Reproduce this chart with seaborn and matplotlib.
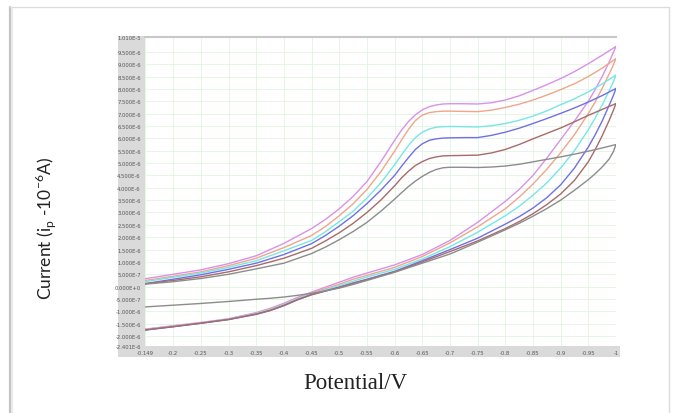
import numpy as np
import pandas as pd
import matplotlib
matplotlib.use("Agg")
import matplotlib.pyplot as plt
import seaborn as sns
from matplotlib.patches import Rectangle
from matplotlib.lines import Line2D

# forward scan (-0.149 -> -1 V), current in uA
fwd_potential = [-0.149, -0.2, -0.25, -0.3, -0.35, -0.4, -0.45, -0.475, -0.5, -0.525,
                 -0.55, -0.575, -0.6, -0.6125, -0.625, -0.6375, -0.65, -0.6625, -0.675,
                 -0.6875, -0.7, -0.725, -0.75, -0.775, -0.8, -0.825, -0.85, -0.875,
                 -0.9, -0.925, -0.95, -0.975, -1.0]
fwd_magenta = [0.32, 0.5, 0.68, 0.93, 1.25, 1.75, 2.35, 2.72, 3.15, 3.65, 4.25, 5.05, 5.92,
               6.33, 6.68, 6.95, 7.15, 7.28, 7.35, 7.39, 7.4, 7.4, 7.39, 7.44, 7.55,
               7.72, 7.94, 8.17, 8.42, 8.7, 9.02, 9.36, 9.72]
fwd_orange = [0.25, 0.42, 0.6, 0.85, 1.15, 1.58, 2.07, 2.43, 2.87, 3.35, 3.93, 4.65, 5.48,
              5.93, 6.36, 6.72, 6.94, 7.04, 7.08, 7.1, 7.1, 7.09, 7.08, 7.14, 7.25,
              7.38, 7.55, 7.75, 7.97, 8.21, 8.5, 8.84, 9.23]
fwd_cyan = [0.2, 0.38, 0.55, 0.78, 1.05, 1.45, 1.87, 2.22, 2.63, 3.05, 3.58, 4.2, 4.93,
            5.33, 5.71, 6.03, 6.25, 6.38, 6.45, 6.47, 6.48, 6.47, 6.46, 6.51, 6.6,
            6.73, 6.9, 7.11, 7.36, 7.6, 7.88, 8.2, 8.56]
fwd_blue = [0.12, 0.3, 0.48, 0.7, 0.95, 1.3, 1.74, 2.07, 2.45, 2.87, 3.36, 3.9, 4.5,
            4.87, 5.22, 5.55, 5.78, 5.92, 5.98, 6.01, 6.02, 6.03, 6.03, 6.12, 6.25,
            6.41, 6.6, 6.8, 7.01, 7.23, 7.47, 7.73, 8.02]
fwd_brown = [0.12, 0.25, 0.4, 0.6, 0.85, 1.15, 1.55, 1.85, 2.18, 2.56, 3.0, 3.5, 4.08,
             4.4, 4.67, 4.9, 5.06, 5.18, 5.25, 5.29, 5.3, 5.31, 5.32, 5.41, 5.55,
             5.75, 5.98, 6.2, 6.42, 6.67, 6.93, 7.17, 7.41]
fwd_gray = [0.1, 0.2, 0.33, 0.5, 0.72, 0.95, 1.34, 1.6, 1.9, 2.23, 2.6, 3.05, 3.54,
            3.8, 4.05, 4.27, 4.46, 4.62, 4.74, 4.81, 4.83, 4.83, 4.82, 4.84, 4.88,
            4.95, 5.05, 5.15, 5.25, 5.36, 5.48, 5.61, 5.75]

# reverse scan (-1 -> -0.149 V)
rev_potential = [-1.0, -0.995, -0.9875, -0.975, -0.9625, -0.95, -0.925, -0.9, -0.875,
                 -0.85, -0.825, -0.8, -0.75, -0.7, -0.65, -0.6, -0.55, -0.525, -0.5,
                 -0.475, -0.45, -0.425, -0.4, -0.375, -0.35, -0.3, -0.25, -0.2, -0.149]
rev_magenta = [9.72, 9.46, 9.08, 8.5, 7.98, 7.5, 6.7, 5.95, 5.2, 4.5, 3.93, 3.45, 2.6,
               1.87, 1.3, 0.88, 0.55, 0.38, 0.18, -0.02, -0.22, -0.43, -0.67, -0.88,
               -1.05, -1.3, -1.45, -1.58, -1.72]
rev_orange = [9.23, 8.96, 8.6, 8.02, 7.48, 7.0, 6.15, 5.42, 4.75, 4.15, 3.62, 3.15, 2.42,
              1.77, 1.22, 0.78, 0.46, 0.3, 0.1, -0.08, -0.26, -0.46, -0.7, -0.9, -1.07,
              -1.31, -1.46, -1.6, -1.73]
rev_cyan = [8.56, 8.28, 7.92, 7.35, 6.83, 6.35, 5.5, 4.8, 4.2, 3.7, 3.25, 2.87, 2.2,
            1.62, 1.12, 0.7, 0.39, 0.22, 0.04, -0.13, -0.29, -0.49, -0.73, -0.93,
            -1.09, -1.32, -1.47, -1.61, -1.74]
rev_blue = [8.02, 7.72, 7.33, 6.7, 6.15, 5.65, 4.8, 4.12, 3.6, 3.18, 2.83, 2.53, 1.96,
            1.5, 1.05, 0.62, 0.3, 0.15, -0.02, -0.17, -0.32, -0.52, -0.76, -0.96,
            -1.11, -1.33, -1.48, -1.62, -1.76]
rev_brown = [7.41, 7.12, 6.72, 6.1, 5.55, 5.05, 4.3, 3.75, 3.32, 2.95, 2.63, 2.35, 1.85,
             1.42, 1.0, 0.6, 0.28, 0.13, -0.03, -0.18, -0.33, -0.53, -0.77, -0.97,
             -1.12, -1.33, -1.48, -1.62, -1.75]
rev_gray = [5.75, 5.45, 5.16, 4.84, 4.57, 4.33, 3.9, 3.5, 3.16, 2.85, 2.56, 2.3, 1.8,
            1.32, 0.95, 0.58, 0.25, 0.09, -0.06, -0.17, -0.27, -0.35, -0.42, -0.47,
            -0.51, -0.6, -0.68, -0.75, -0.82]

curves = ["magenta", "orange", "cyan", "blue", "brown", "gray"]
fwd = [fwd_magenta, fwd_orange, fwd_cyan, fwd_blue, fwd_brown, fwd_gray]
rev = [rev_magenta, rev_orange, rev_cyan, rev_blue, rev_brown, rev_gray]
colors = ["#d991ea", "#f0a58c", "#78e6e6", "#7070e6", "#a86a6a", "#8c8c8c"]

x_ticks = [-0.149, -0.2, -0.25, -0.3, -0.35, -0.4, -0.45, -0.5, -0.55, -0.6, -0.65,
           -0.7, -0.75, -0.8, -0.85, -0.9, -0.95, -1.0]
y_ticks = [-2.401e-6] + [k * 5e-7 for k in range(-4, 20)] + [1.01e-5]

rows = []
for name, f, r in zip(curves, fwd, rev):
    pot = fwd_potential + rev_potential
    cur = f + r
    for i, (p, c) in enumerate(zip(pot, cur)):
        rows.append({"curve": name, "step": i, "potential": p, "current": c * 1e-6})
df = pd.DataFrame(rows)

sns.set_theme(style="white")

W, H = 680, 414
fig = plt.figure(figsize=(W / 100, H / 100), dpi=100)
L, R, T, B = 145, 616, 38, 347
ax = fig.add_axes([L / W, 1 - B / H, (R - L) / W, (B - T) / H])

sns.lineplot(data=df, x="potential", y="current", hue="curve", units="curve",
             estimator=None, sort=False, palette=dict(zip(curves, colors)),
             linewidth=1.0, legend=False, ax=ax)
for line in ax.get_lines():
    line.set_solid_joinstyle("round")

ax.set_xlim(-0.149, -1.0)
ax.set_ylim(-2.401e-6, 1.01e-5)
ax.set_xticks(x_ticks)
ax.set_xticklabels(["{:g}".format(v) for v in x_ticks])
ax.set_yticks(y_ticks)


def sci(v):
    if abs(v) < 1e-12:
        return "0.000E+0"
    m, e = "{:.3E}".format(v).split("E")
    return "{}E{}".format(m, int(e)) if int(e) < 0 else "{}E+{}".format(m, int(e))


ax.set_yticklabels([sci(v) for v in y_ticks])
ax.tick_params(axis="both", labelsize=3.8, colors="#555555", length=1.5, width=0.4,
               pad=1.5, direction="out")
ax.grid(True, color="#e2f4e2", linewidth=0.6)
ax.set_axisbelow(True)
for s in ["left", "right", "bottom"]:
    ax.spines[s].set_visible(False)
ax.spines["top"].set_color("#c8c8c8")
ax.spines["top"].set_linewidth(1.5)

# gray bands behind tick labels
fig.add_artist(Rectangle((118 / W, 1 - 358 / H), (L - 118) / W, (358 - 37) / H,
                         transform=fig.transFigure, facecolor="#dadada",
                         edgecolor="none", zorder=-1))
fig.add_artist(Rectangle((118 / W, 1 - 358 / H), (620 - 118) / W, (358 - B) / H,
                         transform=fig.transFigure, facecolor="#dadada",
                         edgecolor="none", zorder=-1))

# page frame
for xs, ys, c, lw in [([10, 10], [8, 414], "#c4c4c4", 1.6),
                      ([12, 12], [10, 414], "#e6e6e6", 1.2),
                      ([10, 669], [8, 8], "#dcdcdc", 1.0),
                      ([669, 669], [8, 414], "#dcdcdc", 1.0)]:
    fig.add_artist(Line2D([x / W for x in xs], [1 - y / H for y in ys],
                          transform=fig.transFigure, color=c, linewidth=lw))

ax.set_xlabel("Potential/V", family=["Liberation Serif", "DejaVu Serif"],
              fontsize=16.5, color="#222222")
ax.xaxis.set_label_coords((355 - L) / (R - L), (B - 384) / (B - T))
ax.xaxis.label.set_va("center")
ax.set_ylabel(r"Current (i$_\mathregular{p}$ -10$^\mathregular{-6}$A)",
              family=["Lato", "DejaVu Sans"], fontsize=12.5, color="#222222")
ax.yaxis.set_label_coords((45 - L) / (R - L), (B - 228) / (B - T))
ax.yaxis.label.set_va("center")

fig.savefig("out.png", dpi=100)
